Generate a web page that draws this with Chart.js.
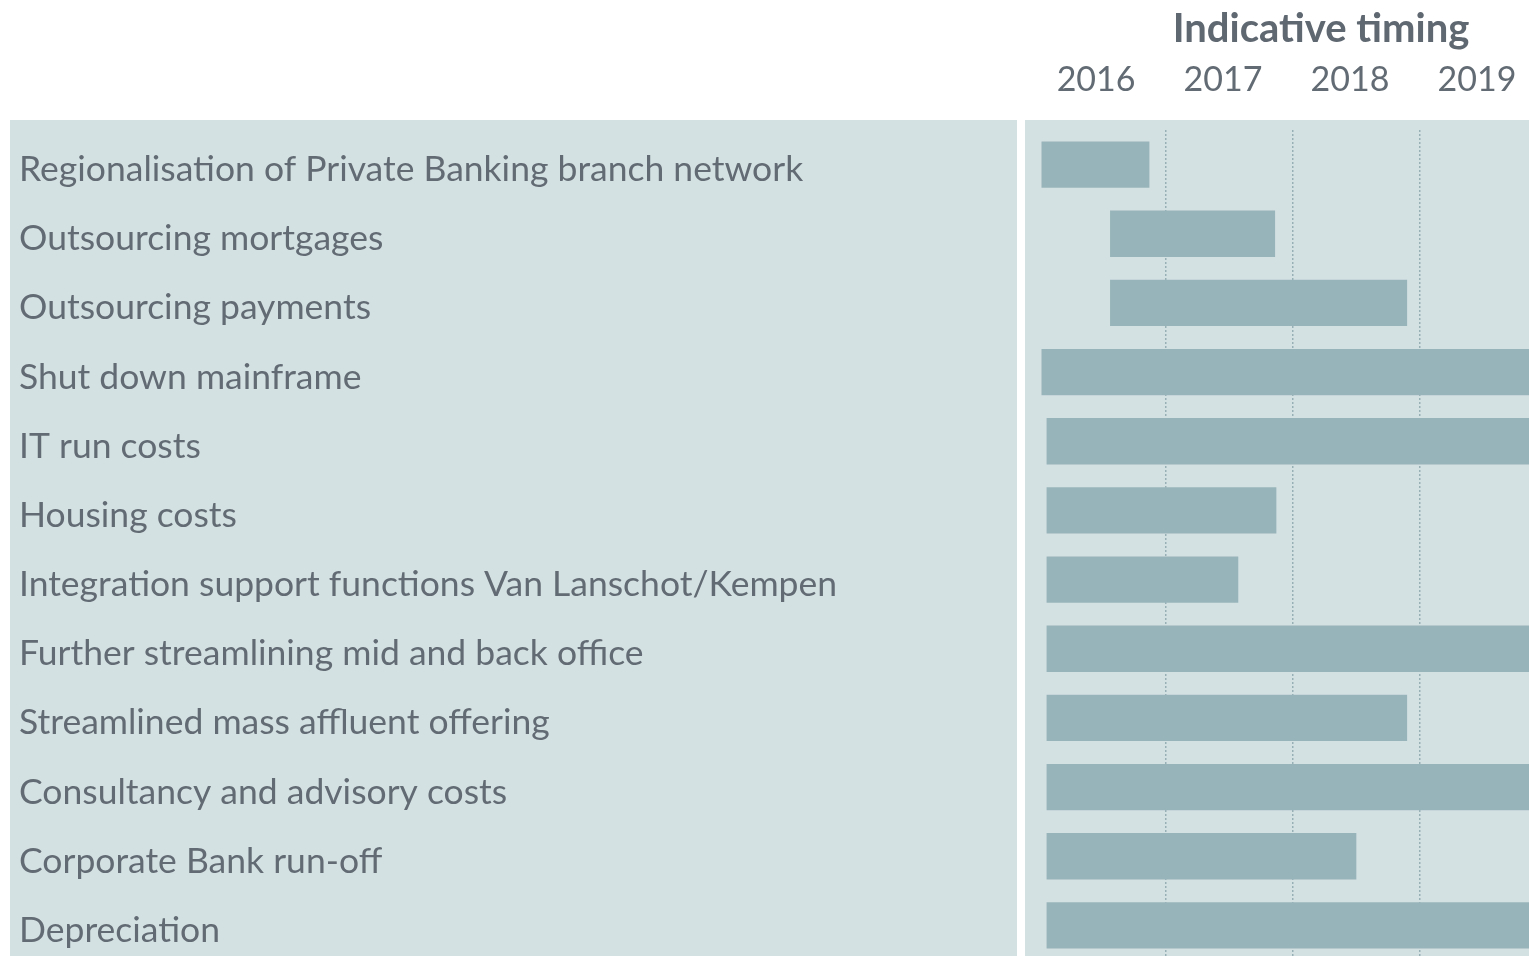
<!DOCTYPE html>
<html>
<head>
<meta charset="utf-8">
<script src="https://cdn.jsdelivr.net/npm/chart.js@4/dist/chart.umd.min.js"></script>
<style>
  html, body { margin: 0; padding: 0; background: #ffffff; overflow: hidden; }
  canvas { display: block; }
</style>
</head>
<body>
<canvas id="c" width="1529" height="960" style="width:1529px;height:960px"></canvas>
<script>
// ---- Data ----
const categories = [
  "Regionalisation of Private Banking branch network",
  "Outsourcing mortgages",
  "Outsourcing payments",
  "Shut down mainframe",
  "IT run costs",
  "Housing costs",
  "Integration support functions Van Lanschot/Kempen",
  "Further streamlining mid and back office",
  "Streamlined mass affluent offering",
  "Consultancy and advisory costs",
  "Corporate Bank run-off",
  "Depreciation"
];
const startValues = [2016.02, 2016.56, 2016.56, 2016.02, 2016.06, 2016.06, 2016.06, 2016.06, 2016.06, 2016.06, 2016.06, 2016.06];
const endValues   = [2016.87, 2017.86, 2018.90, 2019.90, 2019.90, 2017.87, 2017.57, 2019.90, 2018.90, 2019.90, 2018.50, 2019.90];
const yearTicks = [2016, 2017, 2018, 2019];
const titleText = "Indicative timing";

// ---- Styles ----
const panelColor = "#d4e1e3";
const barColor = "#97b4ba";
const textColor = "#626b73";
const gridColor = "#97b0b6";
const fontFamily = "Lato, 'Open Sans', sans-serif";

const X_MIN = 2015.89, X_MAX = 2019.86;

function zeroPad(scale) {
  scale.paddingLeft = 0; scale.paddingRight = 0;
  scale.paddingTop = 0; scale.paddingBottom = 0;
}

const bgPlugin = {
  id: 'panels',
  beforeDraw(chart) {
    const ctx = chart.ctx;
    const ca = chart.chartArea;
    ctx.save();
    ctx.fillStyle = panelColor;
    ctx.fillRect(10, 120, 1007, chart.height - 120);
    ctx.fillRect(ca.left, 120, ca.right - ca.left, chart.height - 120);
    ctx.restore();
  }
};

const titlePlugin = {
  id: 'topTitle',
  afterDraw(chart) {
    const ctx = chart.ctx;
    ctx.save();
    ctx.font = "bold 40px " + fontFamily;
    ctx.fillStyle = "#5f6770";
    ctx.textAlign = "center";
    ctx.textBaseline = "middle";
    ctx.fillText(titleText, 1321, 29);
    ctx.restore();
  }
};

new Chart(document.getElementById('c'), {
  type: 'bar',
  data: {
    labels: categories,
    datasets: [{
      data: startValues.map((s, i) => [s, endValues[i]]),
      backgroundColor: barColor,
      borderWidth: 0,
      borderSkipped: false,
      barPercentage: 0.67,
      categoryPercentage: 1.0,
      xAxisID: 'x',
      yAxisID: 'y'
    }]
  },
  options: {
    indexAxis: 'y',
    responsive: false,
    animation: false,
    devicePixelRatio: 1,
    layout: { autoPadding: false, padding: { left: 19, right: 0, top: 0, bottom: 0 } },
    plugins: {
      legend: { display: false },
      tooltip: { enabled: false },
      title: { display: false }
    },
    scales: {
      x: {
        type: 'linear',
        position: 'top',
        min: X_MIN,
        max: X_MAX,
        grid: { display: false, drawTicks: false },
        border: { display: false },
        afterBuildTicks(scale) {
          scale.ticks = yearTicks.map(y => ({ value: y + 0.45 }));
        },
        afterFit(scale) { scale.height = 130; zeroPad(scale); },
        ticks: {
          autoSkip: false,
          maxRotation: 0,
          padding: 30,
          color: textColor,
          font: { family: fontFamily, size: 34 },
          callback(v) { return String(Math.floor(v)); }
        }
      },
      xg: {
        type: 'linear',
        position: 'bottom',
        min: X_MIN,
        max: X_MAX,
        afterBuildTicks(scale) {
          scale.ticks = yearTicks.slice(1).map(y => ({ value: y }));
        },
        afterFit(scale) { scale.height = 0; zeroPad(scale); },
        grid: {
          display: true,
          drawTicks: false,
          color: gridColor,
          lineWidth: 1.5
        },
        border: { display: false, dash: [2, 2] },
        ticks: { display: false }
      },
      y: {
        type: 'category',
        position: 'left',
        offset: true,
        grid: { display: false, drawTicks: false },
        border: { display: false },
        afterFit(scale) { scale.width = 1006; zeroPad(scale); },
        ticks: {
          crossAlign: 'far',
          autoSkip: false,
          padding: 0,
          labelOffset: 5,
          color: textColor,
          font: { family: fontFamily, size: 35.5 }
        }
      }
    }
  },
  plugins: [bgPlugin, titlePlugin]
});
</script>
</body>
</html>
